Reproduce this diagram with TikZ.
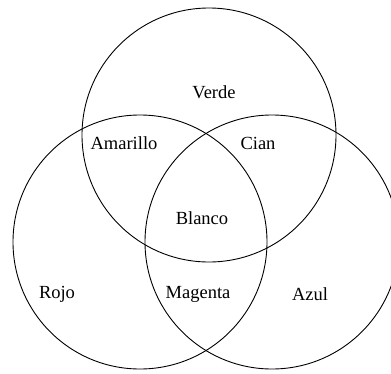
\documentclass[tikz,border=0pt]{standalone}
\usepackage{fontspec}
\setmainfont{Liberation Serif}
\begin{document}
\begin{tikzpicture}[
  x=1pt, y=-1pt,
  colour/.style={circle, draw, line width=0.9pt, minimum size=254pt, inner sep=0pt},
  every node/.style={font=\fontsize{18.5}{20}\selectfont}
]
\useasboundingbox (0,0) rectangle (391,373);

\node[colour] (verdecirc) at (209,135) {};
\node[colour] (rojocirc) at (140,242) {};
\node[colour] (azulcirc) at (272,242) {};

\node (verde) at (214,92) {Verde};
\node (amarillo) at (124,143) {Amarillo};
\node (cian) at (258,143) {Cian};
\node (blanco) at (202,218) {Blanco};
\node (rojo) at (57,294) {Rojo};
\node (magenta) at (198,294) {Magenta};
\node (azul) at (310,294) {Azul};

\end{tikzpicture}
\end{document}
